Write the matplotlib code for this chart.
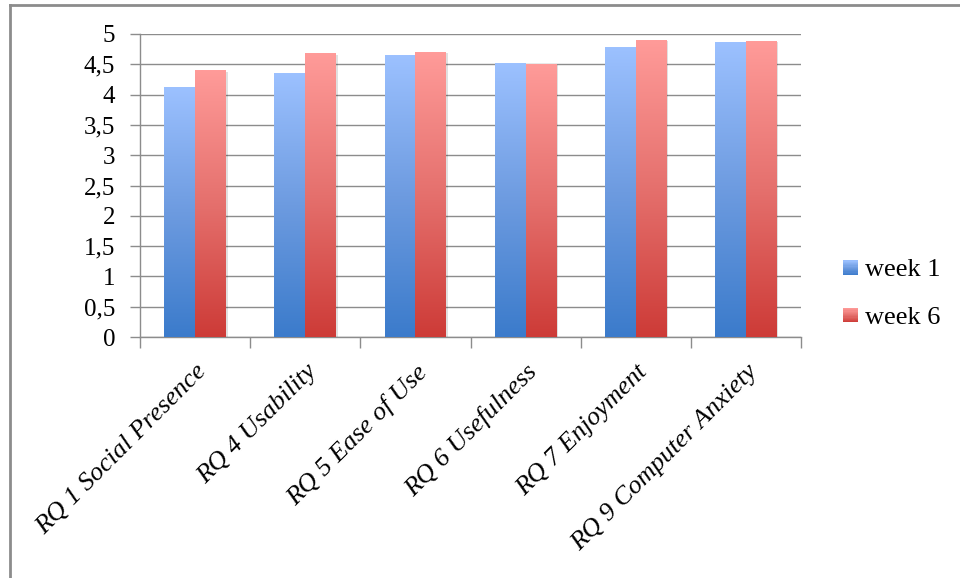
import numpy as np
import matplotlib
matplotlib.use("Agg")
import matplotlib.pyplot as plt
import matplotlib.transforms as mtransforms
from matplotlib.colors import LinearSegmentedColormap
from matplotlib.patches import Rectangle
from matplotlib.lines import Line2D
from matplotlib.legend_handler import HandlerBase

categories = ["RQ 1 Social Presence", "RQ 4 Usability", "RQ 5 Ease of Use",
              "RQ 6 Usefulness", "RQ 7 Enjoyment", "RQ 9 Computer Anxiety"]
week1 = [4.11, 4.35, 4.65, 4.52, 4.77, 4.86]
week6 = [4.39, 4.67, 4.69, 4.50, 4.90, 4.88]
series_names = ["week 1", "week 6"]

blue_cmap = LinearSegmentedColormap.from_list("blue", ["#3b7bcb", "#6d9be0", "#9cc1ff"])
red_cmap = LinearSegmentedColormap.from_list("red", ["#cd3b37", "#e5706d", "#ff9b99"])

plt.rcParams["font.family"] = ["Liberation Serif", "DejaVu Serif"]

fig = plt.figure(figsize=(9.6, 5.78), dpi=100)
ax = fig.add_axes([140 / 960, 1 - 337 / 578, 661 / 960, 303 / 578])

# outer chart frame
fig.add_artist(Line2D([10 / 960, 10 / 960], [0, 1 - 5 / 578], color="#8c8c8c", lw=2))
fig.add_artist(Line2D([10 / 960, 1], [1 - 5 / 578, 1 - 5 / 578], color="#8c8c8c", lw=2))

x = np.arange(len(categories))
width = 0.28
grad = np.linspace(0, 1, 256).reshape(-1, 1)


def gradient_bars(xpos, values, cmap, label):
    bars = ax.bar(xpos, values, width, color="none", edgecolor="none", label=label, zorder=3)
    for b in bars:
        x0, w, h = b.get_x(), b.get_width(), b.get_height()
        # soft shadow
        ax.add_patch(Rectangle((x0 + 0.015, 0), w, h - 0.01, color="#000000", alpha=0.12,
                               lw=0, zorder=2))
        ax.imshow(grad, cmap=cmap, origin="lower", aspect="auto",
                  extent=(x0, x0 + w, 0, h), zorder=3)
    return bars


gradient_bars(x - width / 2, week1, blue_cmap, series_names[0])
gradient_bars(x + width / 2, week6, red_cmap, series_names[1])

ax.set_xlim(-0.5, len(categories) - 0.5)
ax.set_ylim(0, 5)
ax.set_yticks(np.arange(0, 5.01, 0.5))
ax.set_yticklabels([("%g" % v).replace(".", ",") for v in np.arange(0, 5.01, 0.5)])
ax.yaxis.grid(True, color="#8c8c8c", lw=1)
ax.set_axisbelow(True)

ax.set_xticks(np.arange(-0.5, len(categories), 1.0))
ax.set_xticklabels([])
ax.set_xticks(x, minor=True)
ax.set_xticklabels(categories, minor=True, rotation=45, ha="right", va="top",
                   rotation_mode="anchor", fontsize=19, style="italic")
shift = mtransforms.ScaledTranslation(10 / 100, 0, fig.dpi_scale_trans)
for lbl in ax.get_xticklabels(minor=True):
    lbl.set_transform(lbl.get_transform() + shift)
ax.tick_params(axis="x", which="minor", length=0, pad=17)
ax.tick_params(axis="x", which="major", length=8, color="#8c8c8c", width=1)
ax.tick_params(axis="y", length=7, color="#8c8c8c", width=1, labelsize=18, pad=11)

for s in ["top", "right"]:
    ax.spines[s].set_visible(False)
for s in ["left", "bottom"]:
    ax.spines[s].set_color("#8c8c8c")
    ax.spines[s].set_linewidth(1)


class GradientSquare(HandlerBase):
    def __init__(self, cmap):
        super().__init__()
        self.cmap = cmap

    def create_artists(self, legend, orig_handle, xdescent, ydescent, width, height,
                       fontsize, trans):
        side = min(width, height)
        arts = []
        n = 12
        for i in range(n):
            arts.append(Rectangle((-xdescent, -ydescent + side * i / n), side, side / n + 0.3,
                                  facecolor=self.cmap((i + 0.5) / n), lw=0, transform=trans))
        return arts


handles = [Rectangle((0, 0), 1, 1), Rectangle((0, 0), 1, 1)]
fig.legend(handles, series_names, loc="center left", bbox_to_anchor=(843 / 960, 1 - 294 / 578),
           frameon=False, fontsize=19, handlelength=0.55, handleheight=0.55,
           handletextpad=0.3, labelspacing=0.95, borderpad=0, borderaxespad=0,
           handler_map={handles[0]: GradientSquare(blue_cmap), handles[1]: GradientSquare(red_cmap)})

fig.savefig("out.png", dpi=100)
